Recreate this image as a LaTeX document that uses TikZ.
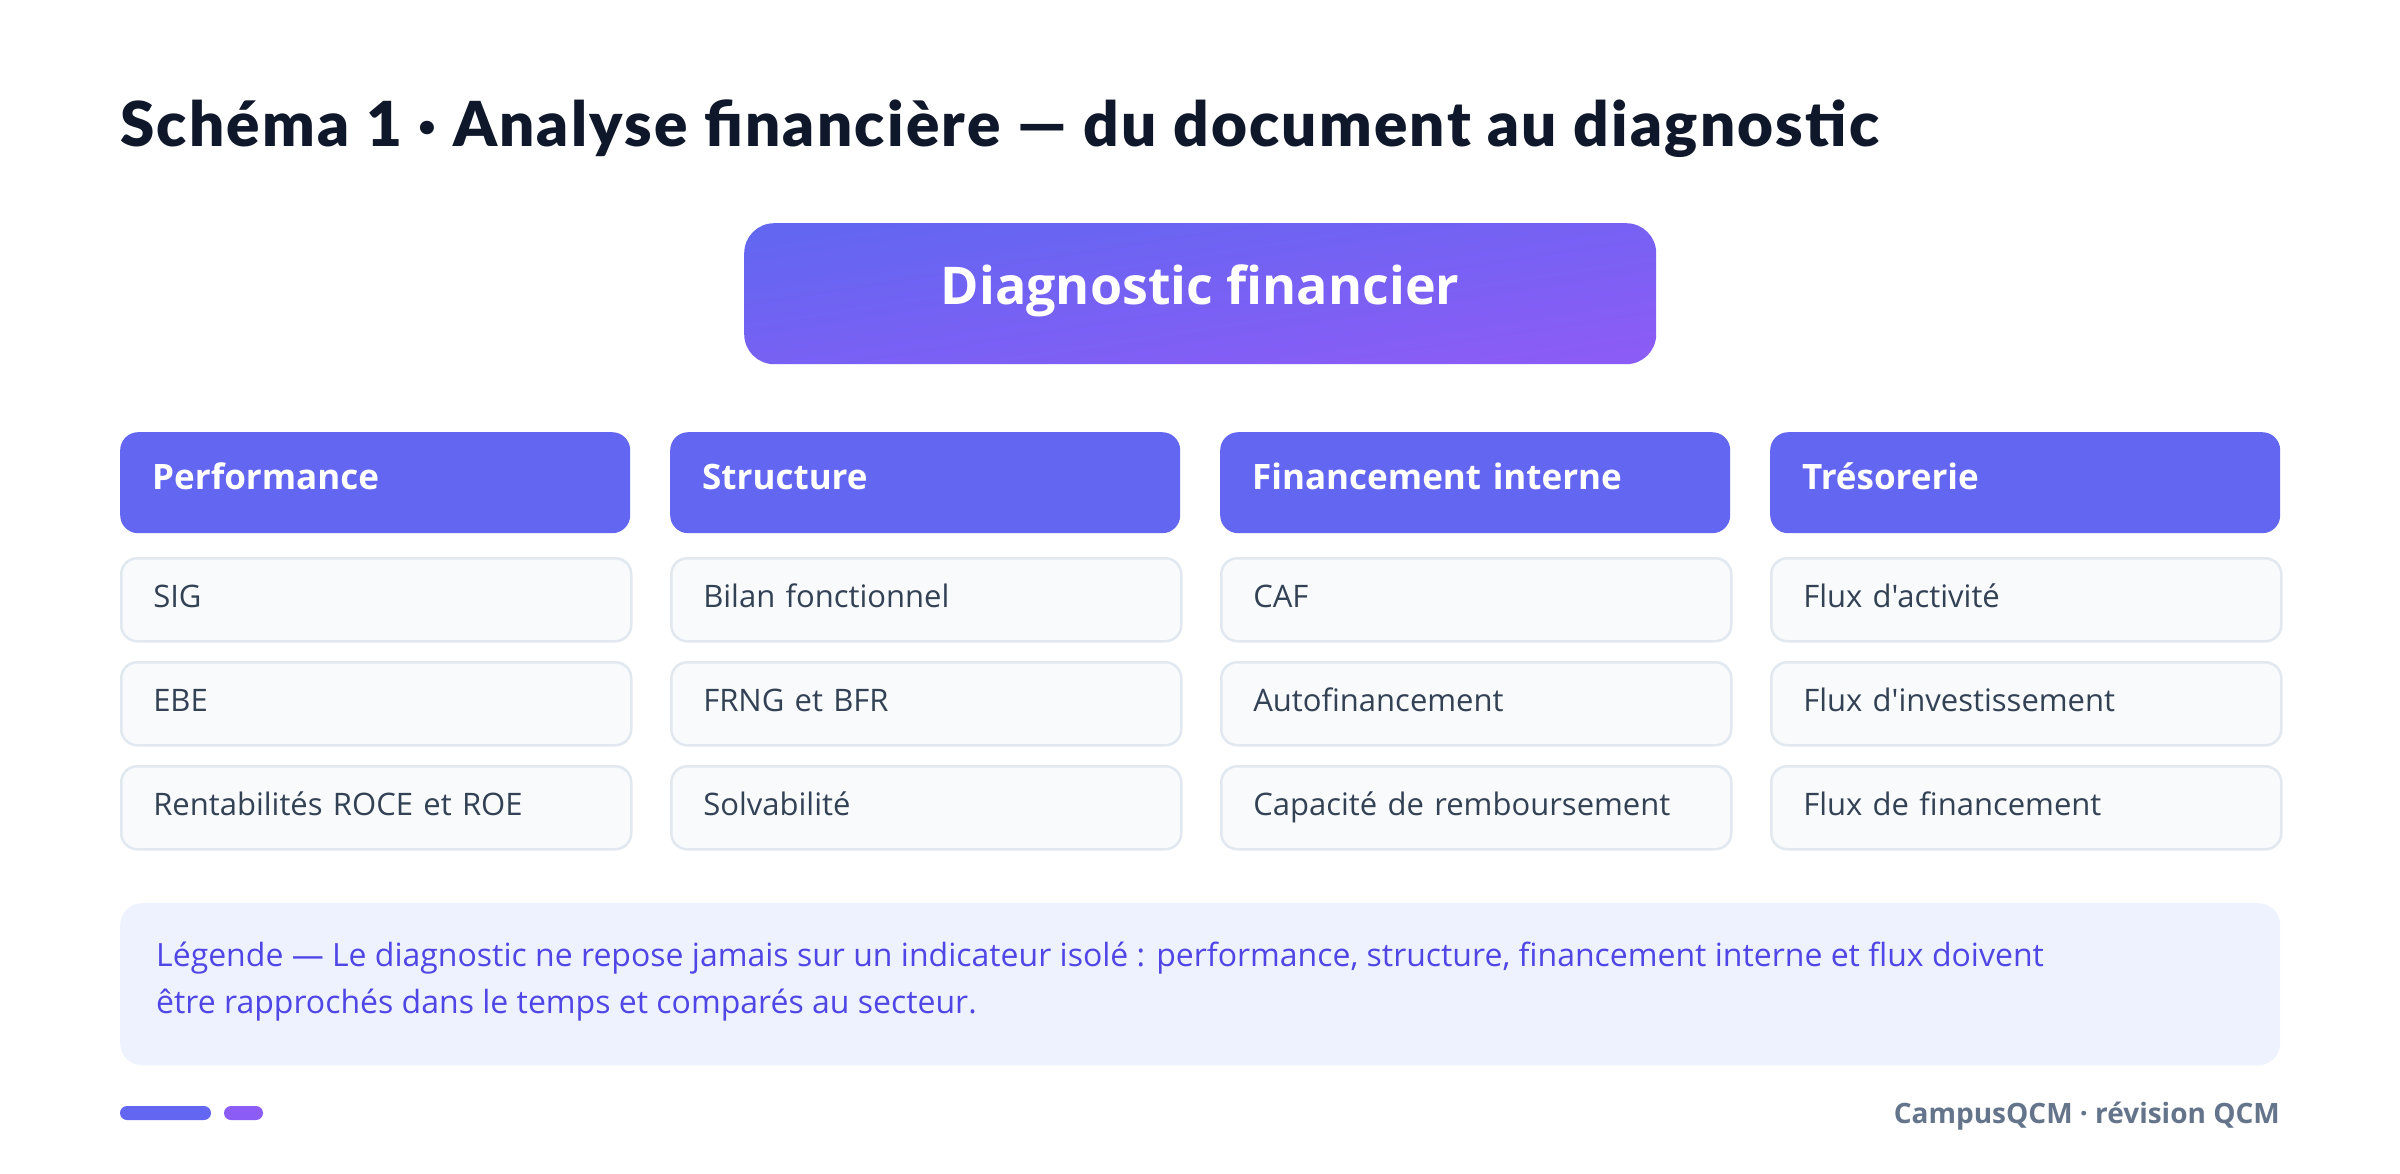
\documentclass[tikz,border=0pt]{standalone}
\usepackage{fontspec}
\setmainfont{Open Sans}[Ligatures=TeXOff]
\newfontfamily\titlefont{Lato-Black.ttf}[LetterSpace=3.6]
\definecolor{indigo}{HTML}{6366F1}
\definecolor{violet}{HTML}{8B5CF6}
\definecolor{titleink}{HTML}{0F172A}
\definecolor{itemink}{HTML}{334155}
\definecolor{itemfill}{HTML}{F8FAFC}
\definecolor{itemline}{HTML}{E2E8F0}
\definecolor{legfill}{HTML}{EEF2FF}
\definecolor{legink}{HTML}{4F46E5}
\definecolor{footink}{HTML}{64748B}
\tikzset{
  hdr/.style={fill=indigo, rounded corners=18pt, minimum width=510pt, minimum height=101pt,
    text width=446pt, inner xsep=32pt, inner ysep=0pt, align=left, anchor=north west,
    text height=26pt, text depth=13pt,
    text=white, font=\fontsize{35}{42}\selectfont\bfseries},
  itembox/.style={draw=itemline, line width=2.5pt, fill=itemfill, rounded corners=16pt,
    minimum width=510pt, minimum height=83pt, text width=446pt, inner xsep=32pt, inner ysep=0pt,
    text height=23pt, text depth=8pt,
    align=left, anchor=north west, text=itemink, font=\fontsize{31}{38}\selectfont},
  bar/.style={rounded corners=7pt}
}
\begin{document}
\begin{tikzpicture}[x=1pt,y=-1pt]
\useasboundingbox[fill=white] (0,0) rectangle (2400,1174);
\node[anchor=base west, inner sep=0pt, text=titleink, font=\titlefont\fontsize{62}{72}\selectfont] (title) at (120,147)
  {Schéma 1 · Analyse financière — du document au diagnostic};
\node[anchor=north west, rounded corners=30pt, minimum width=912pt, minimum height=141pt,
  inner ysep=0pt, text height=37pt, text depth=16pt,
  top color=indigo, bottom color=violet, shading angle=8.8, text=white,
  font=\fontsize{52}{62}\selectfont\bfseries] (diag) at (744,223) {Diagnostic financier};
\foreach \i/\name in {0/Performance,1/Structure,2/{Financement interne},3/{Trésorerie}}
  \node[hdr] (h\i) at ({120+\i*550},432) {\name};
\foreach \i/\a/\b/\c in {0/SIG/EBE/{Rentabilités ROCE et ROE},
    1/{Bilan fonctionnel}/{FRNG et BFR}/{Solvabilité},
    2/CAF/Autofinancement/{Capacité de remboursement},
    3/{Flux d'activité}/{Flux d'investissement}/{Flux de financement}}{
  \node[itembox] (a\i) at ({120+\i*550},557) {\a};
  \node[itembox] (b\i) at ({120+\i*550},661) {\b};
  \node[itembox] (c\i) at ({120+\i*550},765) {\c};
}
\node[anchor=north west, fill=legfill, rounded corners=22pt, minimum width=2160pt, minimum height=162pt] (legbox) at (120,903) {};
\node[anchor=west, inner sep=0pt, align=left, text=legink, font=\fontsize{32}{47}\selectfont] (legtext) at (156,982)
  {Légende — Le diagnostic ne repose jamais sur un indicateur isolé : performance, structure, financement interne et flux doivent\\
   être rapprochés dans le temps et comparés au secteur.};
\fill[indigo, bar] (120,1106) rectangle (211,1120);
\fill[violet, bar] (224,1106) rectangle (263,1120);
\node[anchor=base east, inner sep=0pt, text=footink, font=\fontsize{28}{34}\selectfont\bfseries] (foot) at (2280,1123)
  {CampusQCM · révision QCM};
\end{tikzpicture}
\end{document}
